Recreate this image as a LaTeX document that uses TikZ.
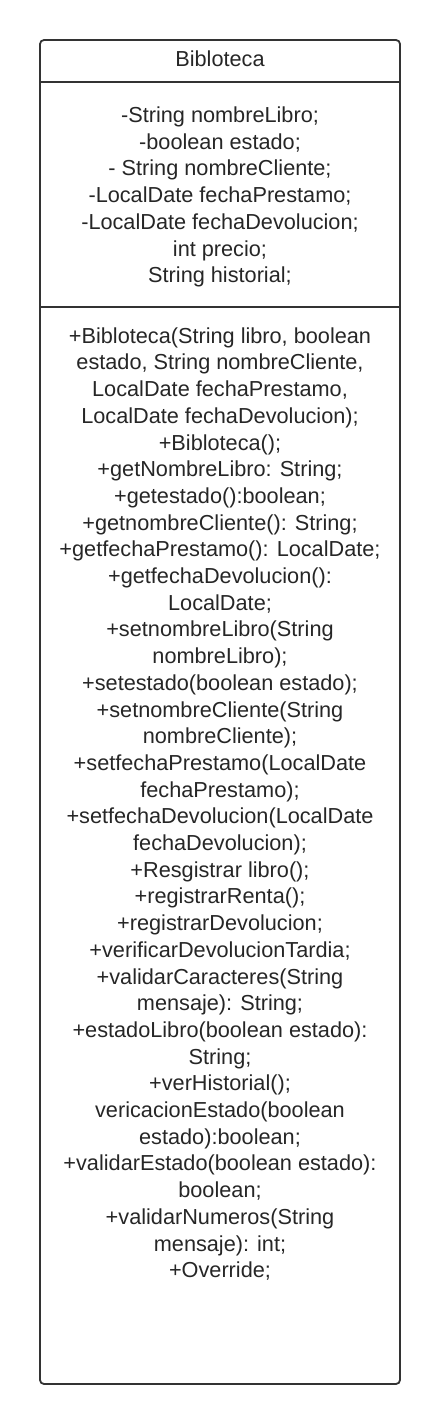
\documentclass[tikz,border=0pt]{standalone}
\usepackage{fontspec}
\setmainfont{Liberation Sans}
\usetikzlibrary{positioning}

\begin{document}
\begin{tikzpicture}[x=1pt,y=-1pt,
		member/.style={align=center,inner sep=0pt,text=black!85,font=\fontsize{21.7}{26.7}\selectfont},
		frame/.style={draw=black!80,line width=1.8pt}]
		\useasboundingbox (0,0) rectangle (440,1424);

		\coordinate (tl) at (40,40);
		\coordinate (br) at (400,1384);
		\coordinate (h1l) at (40,82);
		\coordinate (h1r) at (400,82);
		\coordinate (h2l) at (40,307);
		\coordinate (h2r) at (400,307);

		\draw[frame,rounded corners=4pt] (tl) rectangle (br);
		\draw[frame] (h1l) -- (h1r);
		\draw[frame] (h2l) -- (h2r);

		\node[member] (title) at (220,58.5) {Bibloteca};
		\node[member] (attrs) at (220,197) {-String nombreLibro;\\-boolean estado;\\- String nombreCliente;\\-LocalDate fechaPrestamo;\\-LocalDate fechaDevolucion;\\int precio;\\String historial;};
		\node[member] (ops) at (220,804) {+Bibloteca(String libro, boolean\\estado, String nombreCliente,\\LocalDate fechaPrestamo,\\LocalDate fechaDevolucion);\\+Bibloteca();\\+getNombreLibro: String;\\+getestado():boolean;\\+getnombreCliente(): String;\\+getfechaPrestamo(): LocalDate;\\+getfechaDevolucion():\\LocalDate;\\+setnombreLibro(String\\nombreLibro);\\+setestado(boolean estado);\\+setnombreCliente(String\\nombreCliente);\\+setfechaPrestamo(LocalDate\\fechaPrestamo);\\+setfechaDevolucion(LocalDate\\fechaDevolucion);\\+Resgistrar libro();\\+registrarRenta();\\+registrarDevolucion;\\+verificarDevolucionTardia;\\+validarCaracteres(String\\mensaje): String;\\+estadoLibro(boolean estado):\\String;\\+verHistorial();\\vericacionEstado(boolean\\estado):boolean;\\+validarEstado(boolean estado):\\boolean;\\+validarNumeros(String\\mensaje): int;\\+Override;};
	\end{tikzpicture}
\end{document}
